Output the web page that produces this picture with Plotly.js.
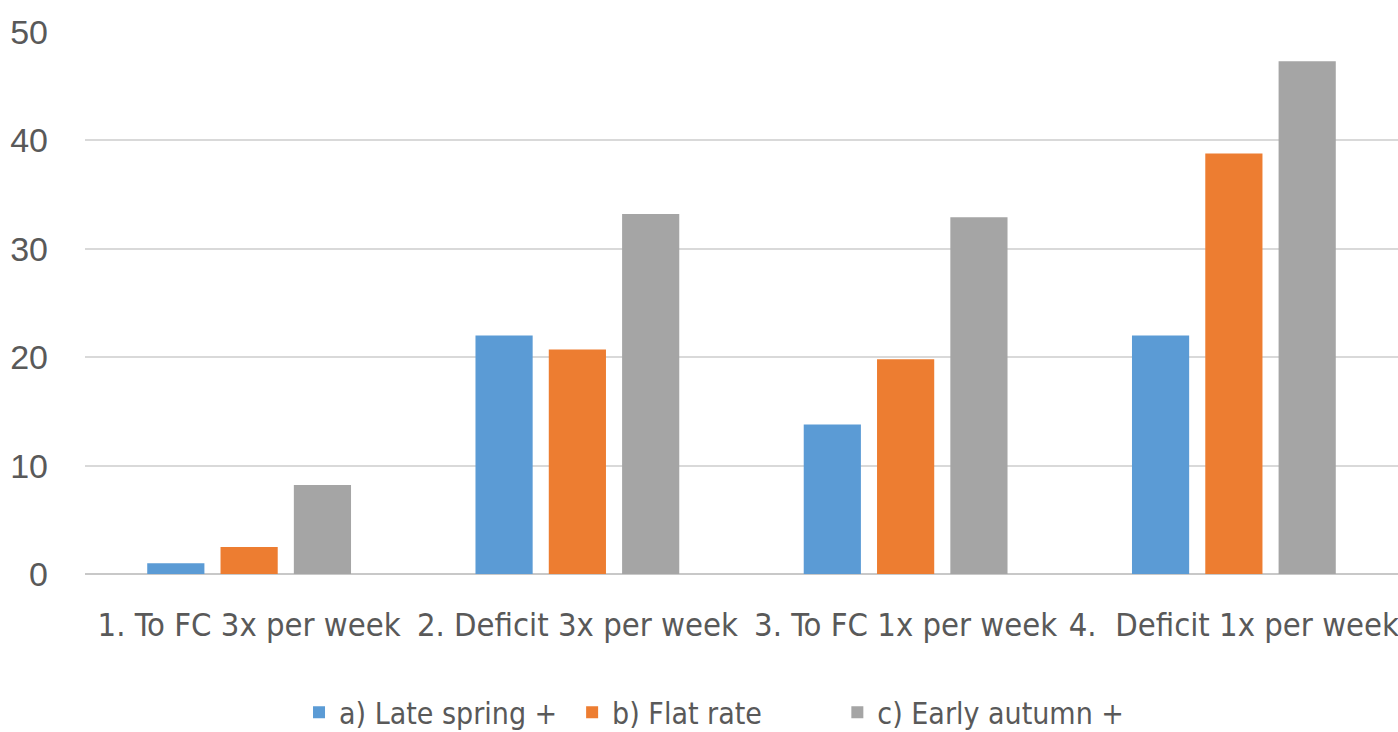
<!DOCTYPE html>
<html>
<head>
<meta charset="utf-8">
<script src="https://cdn.plot.ly/plotly-3.0.1.min.js"></script>
<style>
  html, body { margin: 0; padding: 0; background: #ffffff; }
  #chart { width: 1398px; height: 732px; }
</style>
</head>
<body>
<div id="chart"></div>
<script>
// Irrigation regimes on the category axis
const categories = [
  '1. To FC 3x per week',
  '2. Deficit 3x per week',
  '3. To FC 1x per week',
  '4.  Deficit 1x per week'
];

// One series per scheduling option
const seriesNames = ['a) Late spring +', 'b) Flat rate', 'c) Early autumn +'];
const lateSpring = [1.0, 22.0, 13.8, 22.0];
const flatRate = [2.5, 20.7, 19.8, 38.8];
const earlyAutumn = [8.2, 33.2, 32.9, 47.3];

const yTicks = [0, 10, 20, 30, 40, 50];

const colors = ['#5B9BD5', '#ED7D31', '#A5A5A5'];
const values = [lateSpring, flatRate, earlyAutumn];

const COND = 'DejaVu Sans Condensed, DejaVu Sans, sans-serif';
const TEXT_COLOR = '#595959';

// each series gets its own legend box so the entries can be spaced evenly
const legendIds = ['legend', 'legend2', 'legend3'];
const legendX = [0.163, 0.371, 0.573];

const traces = values.map((v, i) => ({
  type: 'bar',
  name: seriesNames[i],
  x: categories,
  y: v,
  legend: legendIds[i],
  marker: { color: colors[i], line: { width: 0 } },
  hoverinfo: 'x+y+name'
}));

const legendStyle = x => ({
  orientation: 'h',
  x: x,
  xanchor: 'left',
  y: -0.255,
  yanchor: 'middle',
  font: { family: COND, size: 30, color: TEXT_COLOR },
  itemwidth: 30,
  bgcolor: 'rgba(0,0,0,0)'
});

const layout = {
  width: 1398,
  height: 732,
  margin: { l: 85, r: 0, t: 32, b: 158, pad: 0, autoexpand: false },
  paper_bgcolor: '#ffffff',
  plot_bgcolor: '#ffffff',
  barmode: 'group',
  bargap: 0.33,
  bargroupgap: 0.22,
  font: { family: COND, color: TEXT_COLOR, size: 30 },
  xaxis: {
    type: 'category',
    tickangle: 0,
    showgrid: false,
    showline: false,
    ticks: '',
    ticklabelstandoff: 28,
    tickfont: { family: COND, size: 32.5, color: TEXT_COLOR },
    zeroline: false
  },
  yaxis: {
    range: [0, 50],
    tickvals: yTicks,
    ticktext: yTicks.map(String),
    showgrid: true,
    gridcolor: '#D9D9D9',
    gridwidth: 2,
    zeroline: true,
    zerolinecolor: '#C8C8C8',
    zerolinewidth: 2,
    showline: false,
    ticks: '',
    ticklabelstandoff: 36,
    tickfont: { family: 'Liberation Sans, Arial, sans-serif', size: 34, color: TEXT_COLOR }
  },
  legend: legendStyle(legendX[0]),
  legend2: legendStyle(legendX[1]),
  legend3: legendStyle(legendX[2]),
  showlegend: true
};

Plotly.newPlot('chart', traces, layout, { displayModeBar: false, staticPlot: true });
</script>
</body>
</html>
